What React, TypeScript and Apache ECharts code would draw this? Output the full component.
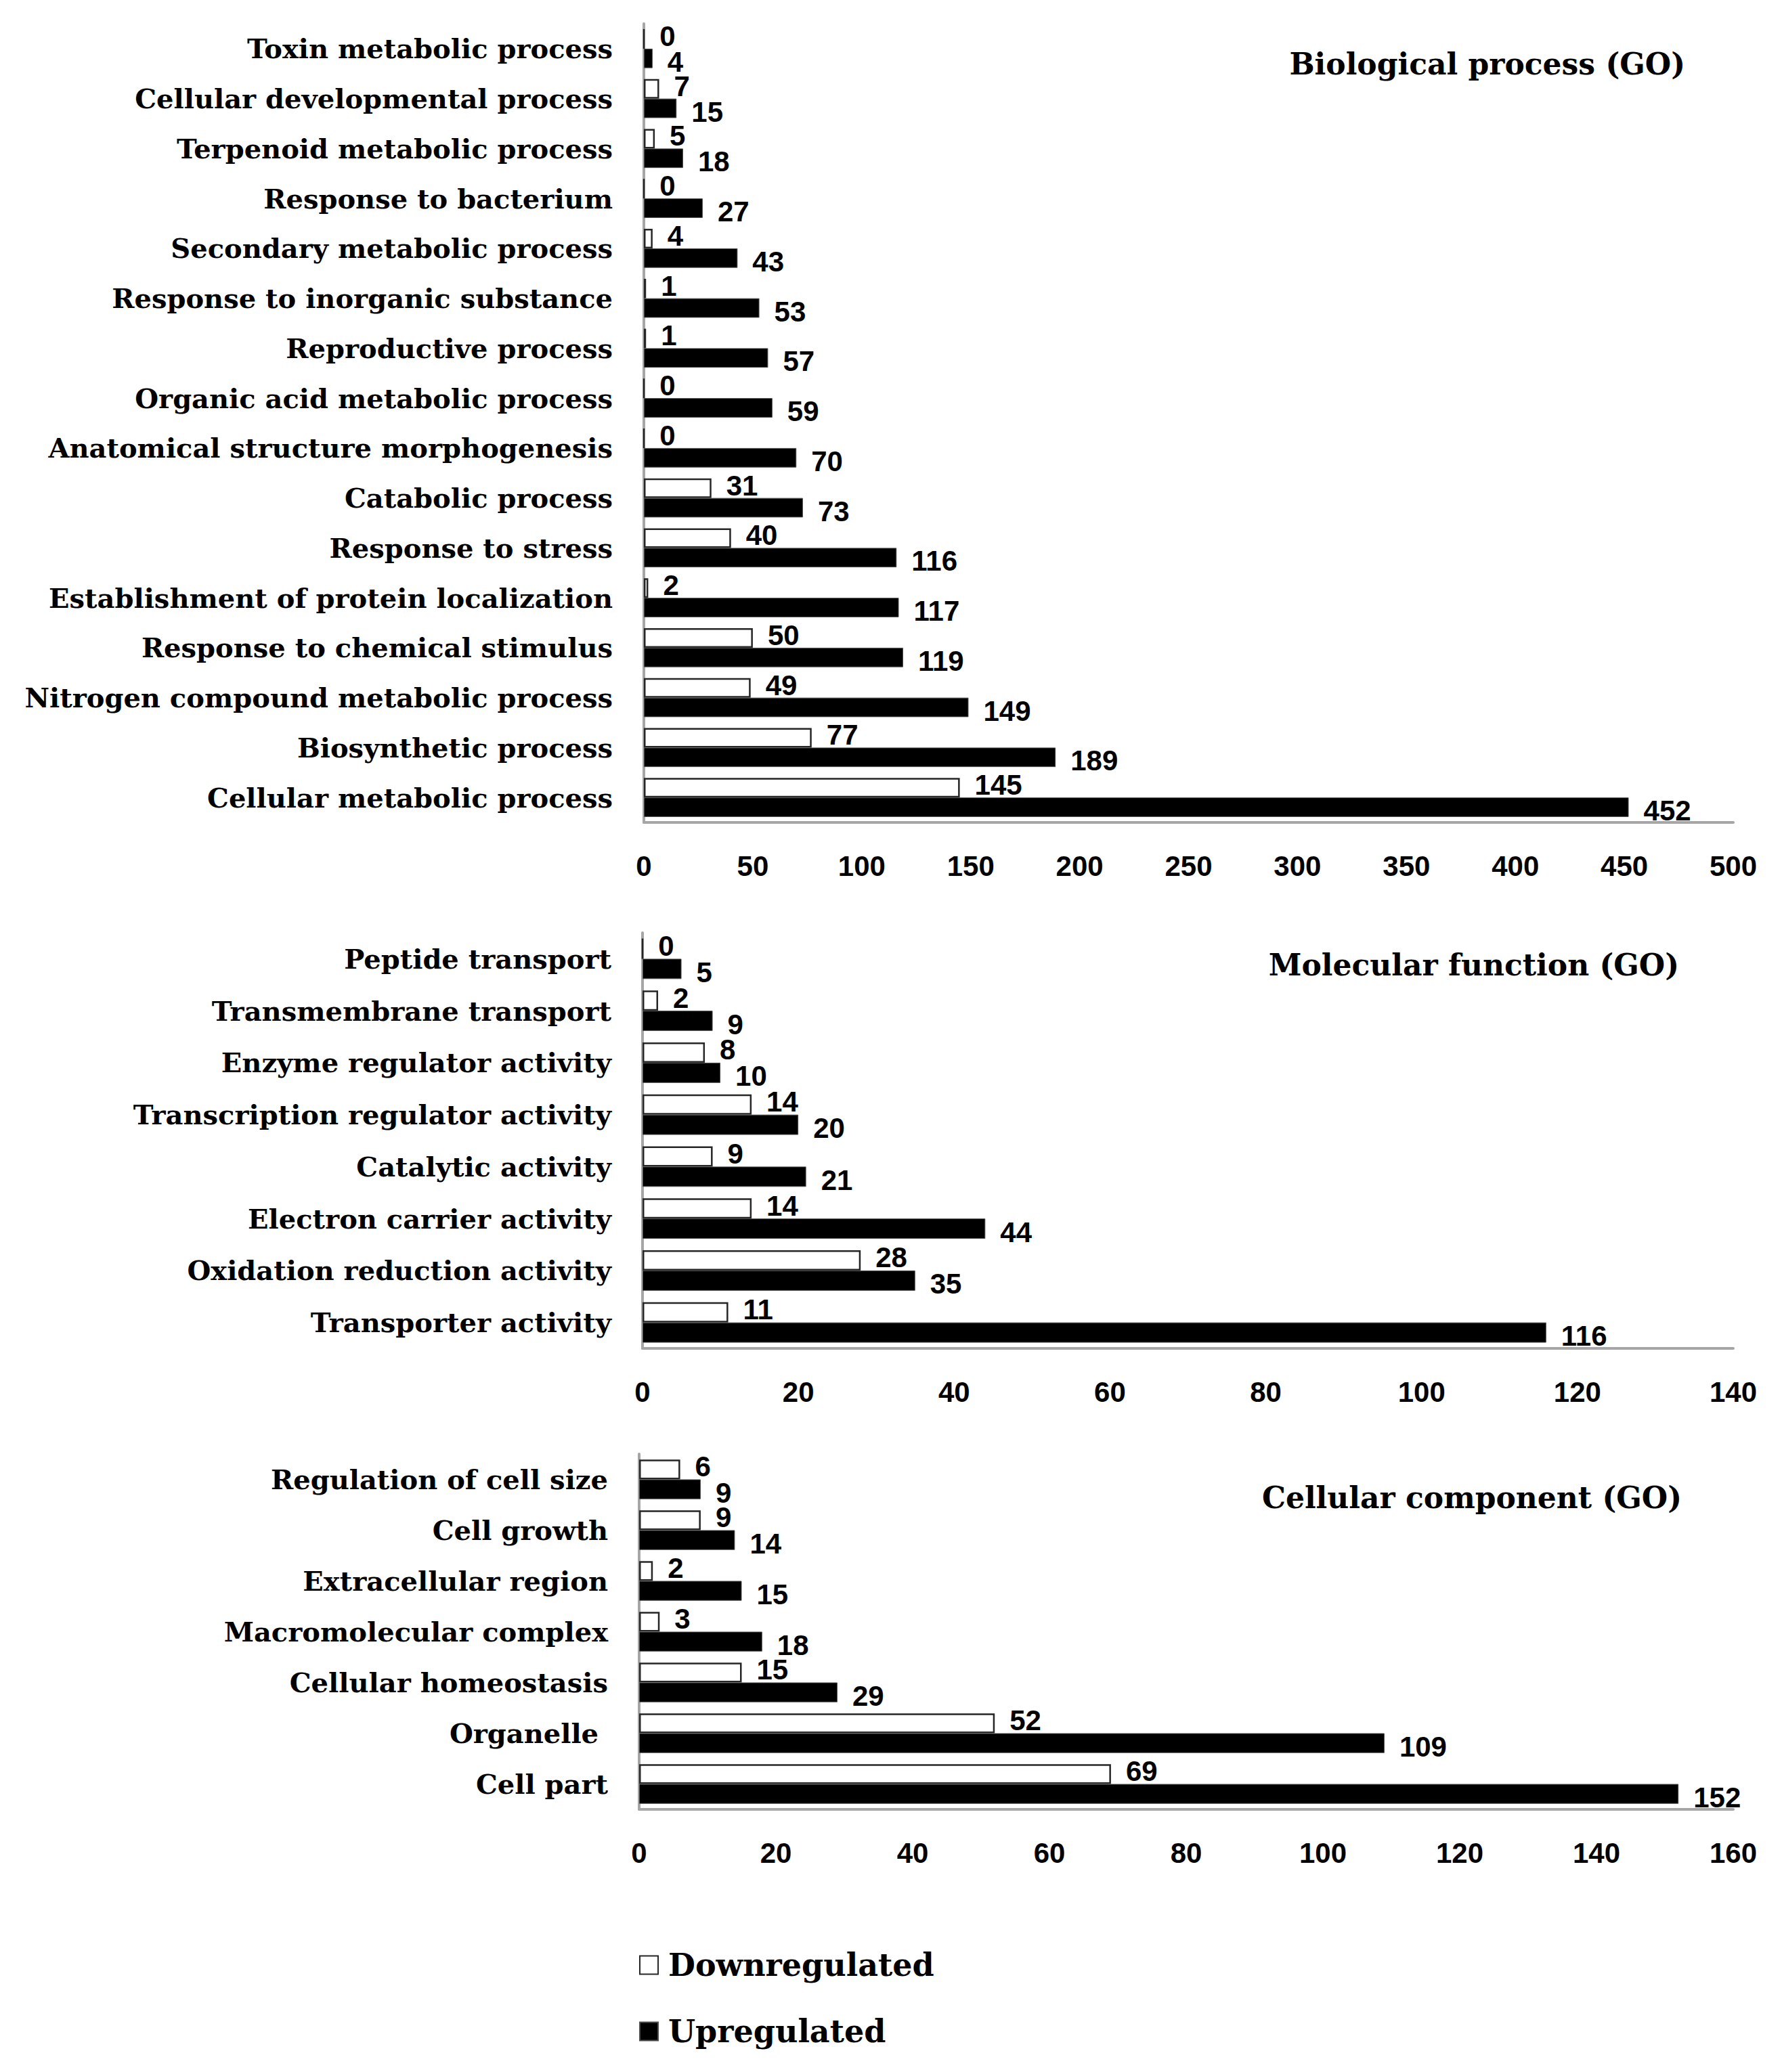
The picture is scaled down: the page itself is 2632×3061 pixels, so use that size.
import React, { useEffect, useRef } from "react";
import * as echarts from "echarts";

// Biological process (GO), listed top to bottom
const bpCategories = [
  "Toxin metabolic process",
  "Cellular developmental process",
  "Terpenoid metabolic process",
  "Response to bacterium",
  "Secondary metabolic process",
  "Response to inorganic substance",
  "Reproductive process",
  "Organic acid metabolic process",
  "Anatomical structure morphogenesis",
  "Catabolic process",
  "Response to stress",
  "Establishment of protein localization",
  "Response to chemical stimulus",
  "Nitrogen compound metabolic process",
  "Biosynthetic process",
  "Cellular metabolic process",
];
const bpDown = [0, 7, 5, 0, 4, 1, 1, 0, 0, 31, 40, 2, 50, 49, 77, 145];
const bpUp = [4, 15, 18, 27, 43, 53, 57, 59, 70, 73, 116, 117, 119, 149, 189, 452];

// Molecular function (GO)
const mfCategories = [
  "Peptide transport",
  "Transmembrane transport",
  "Enzyme regulator activity",
  "Transcription regulator activity",
  "Catalytic activity",
  "Electron carrier activity",
  "Oxidation reduction activity",
  "Transporter activity",
];
const mfDown = [0, 2, 8, 14, 9, 14, 28, 11];
const mfUp = [5, 9, 10, 20, 21, 44, 35, 116];

// Cellular component (GO)
const ccCategories = [
  "Regulation of cell size",
  "Cell growth",
  "Extracellular region",
  "Macromolecular complex",
  "Cellular homeostasis",
  "Organelle ",
  "Cell part",
];
const ccDown = [6, 9, 2, 3, 15, 52, 69];
const ccUp = [9, 14, 15, 18, 29, 109, 152];

// Value-axis ranges: [max, interval]
const bpAxis = [500, 50];
const mfAxis = [140, 20];
const ccAxis = [160, 20];

const panelTitles = ["Biological process (GO)", "Molecular function (GO)", "Cellular component (GO)"];
const seriesNames = ["Downregulated", "Upregulated"];

const SERIF = "'DejaVu Serif', 'Liberation Serif', serif";
const SANS = "'Liberation Sans', Arial, sans-serif";

export default function App() {
  const ref = useRef<HTMLDivElement>(null);

  useEffect(() => {
    if (!ref.current) return;
    document.body.style.margin = "0";
    const chart = echarts.init(ref.current, undefined, { renderer: "svg" });

    const panels = [
      { cats: bpCategories, down: bpDown, up: bpUp, axis: bpAxis, grid: { left: 951, right: 72, top: 35, height: 1180 }, title: [2489, 94] },
      { cats: mfCategories, down: mfDown, up: mfUp, axis: mfAxis, grid: { left: 949, right: 72, top: 1378, height: 614 }, title: [2480, 1425] },
      { cats: ccCategories, down: ccDown, up: ccUp, axis: ccAxis, grid: { left: 944, right: 72, top: 2148, height: 525 }, title: [2484, 2212] },
    ];

    const axisLine = { show: true, lineStyle: { color: "#a6a6a6", width: 4 } };

    const valueLabel = (dy: number) => ({
      show: true,
      position: "right",
      distance: 22,
      offset: [0, dy],
      color: "#000",
      fontFamily: SANS,
      fontWeight: "bold",
      fontSize: 42,
    });

    const option: any = {
      animation: false,
      backgroundColor: "#fff",
      grid: panels.map((p) => ({ ...p.grid, containLabel: false })),
      xAxis: panels.map((p, i) => ({
        type: "value",
        gridIndex: i,
        min: 0,
        max: p.axis[0],
        interval: p.axis[1],
        axisLine,
        axisTick: { show: false },
        splitLine: { show: false },
        axisLabel: { margin: 43, color: "#000", fontFamily: SANS, fontWeight: "bold", fontSize: 42 },
      })),
      yAxis: panels.map((p, i) => ({
        type: "category",
        gridIndex: i,
        inverse: true,
        data: p.cats,
        axisLine,
        axisTick: { show: false },
        axisLabel: { margin: 46, color: "#000", fontFamily: SERIF, fontWeight: "bold", fontSize: 40 },
      })),
      legend: {
        orient: "vertical",
        left: 939,
        top: 2875,
        itemWidth: 27,
        itemHeight: 27,
        itemGap: 52,
        icon: "rect",
        data: seriesNames,
        textStyle: { color: "#000", fontFamily: SERIF, fontWeight: "bold", fontSize: 46, padding: [0, 0, 0, 10] },
      },
      series: panels.flatMap((p, i) => [
        {
          name: seriesNames[0],
          type: "bar",
          xAxisIndex: i,
          yAxisIndex: i,
          data: p.down,
          barGap: "0%",
          barCategoryGap: "22%",
          itemStyle: { color: "#fff", borderColor: "#262626", borderWidth: 2.5 },
          label: valueLabel(-4),
        },
        {
          name: seriesNames[1],
          type: "bar",
          xAxisIndex: i,
          yAxisIndex: i,
          data: p.up,
          barGap: "0%",
          barCategoryGap: "22%",
          itemStyle: { color: "#000", borderColor: "#4d4d4d", borderWidth: 1 },
          label: valueLabel(5),
        },
      ]),
      graphic: panels.map((p, i) => ({
        type: "text",
        x: p.title[0],
        y: p.title[1],
        style: {
          text: panelTitles[i],
          align: "right",
          textAlign: "right",
          verticalAlign: "middle",
          textVerticalAlign: "middle",
          fill: "#000",
          fontFamily: SERIF,
          fontWeight: "bold",
          fontSize: 44,
        },
      })),
    };

    chart.setOption(option);
    return () => chart.dispose();
  }, []);

  return <div ref={ref} style={{ position: "absolute", left: 0, top: 0, width: 2632, height: 3061 }} />;
}
